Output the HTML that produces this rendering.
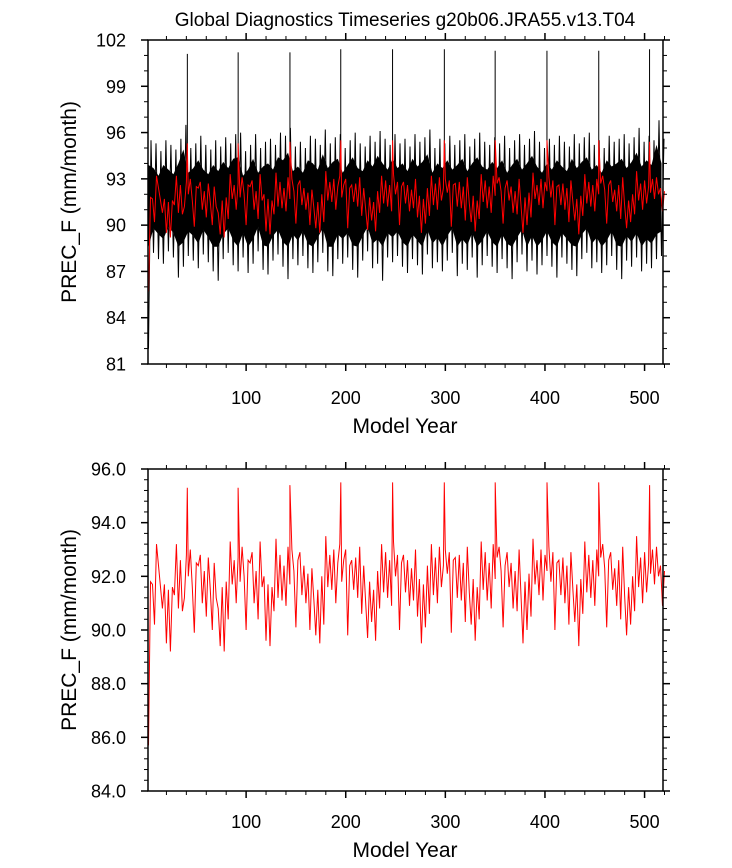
<!DOCTYPE html>
<html><head><meta charset="utf-8"><style>
html,body{margin:0;padding:0;background:#fff;}
svg{display:block;font-family:"Liberation Sans",sans-serif;}
</style></head><body>
<svg id="chart" width="732" height="868" viewBox="0 0 732 868">
<text x="405" y="26" font-size="19" text-anchor="middle">Global Diagnostics Timeseries g20b06.JRA55.v13.T04</text>
<g id="top"></g>
<g id="bot"></g>
</svg>
<script>
// Annual mean (red) values every 2 years starting year 2
const redVals = [
85.7,91.8,91.7,90.2,93.2,92.4,91.6,90.8,91.7,89.5,91.5,89.2,91.6,91.3,93.2,90.8,92.6,90.7,91.2,92.8,92.0,93.0,91.6,89.9,92.5,92.4,
92.8,91.0,92.2,90.5,92.7,91.5,90.0,92.5,91.2,90.8,89.4,91.6,89.2,91.8,90.4,93.3,91.7,92.6,91.0,92.7,91.8,93.1,92.0,90.0,92.6,92.5,
92.9,91.0,92.2,90.4,93.3,91.6,92.0,89.6,91.7,89.4,91.6,90.7,93.4,91.2,92.8,91.1,92.4,90.9,93.1,91.7,93.0,92.2,90.1,92.6,92.9,91.3,
92.4,91.0,92.1,90.0,92.3,91.1,89.8,91.5,89.5,92.0,90.2,93.5,91.6,92.8,91.5,93.0,91.0,92.5,93.2,91.8,92.6,93.0,89.8,92.4,92.6,91.5,
92.7,91.2,93.1,90.6,92.4,91.0,89.7,91.8,90.3,91.5,89.6,92.2,90.8,93.2,91.4,92.9,91.2,92.6,90.9,93.3,92.0,92.8,90.0,92.5,92.8,91.4,
92.6,90.9,92.3,91.1,93.0,90.5,91.9,89.5,91.7,90.1,92.4,90.6,93.2,91.3,92.7,91.0,93.1,91.6,92.4,93.0,92.1,92.9,89.9,92.6,92.7,91.2,
92.8,91.1,92.5,90.3,93.1,91.4,90.2,91.9,89.6,91.6,90.4,93.3,91.5,92.9,91.1,92.5,90.8,93.2,91.9,92.7,93.1,92.2,90.1,92.4,92.9,91.6,
92.5,90.8,92.2,90.7,93.0,91.2,89.5,91.8,90.0,92.1,90.5,93.4,91.7,92.6,91.3,93.0,91.1,92.8,92.2,93.1,91.8,92.9,90.0,92.5,92.6,91.3,
92.7,91.0,92.4,90.2,92.9,91.5,90.3,91.7,89.4,91.9,90.6,93.3,91.4,92.8,91.2,92.6,90.9,93.0,92.0,92.7,93.2,92.3,90.1,92.6,92.9,91.5,
92.3,90.9,92.6,90.4,93.1,91.3,89.8,91.6,90.2,92.0,90.7,93.5,91.6,92.7,91.0,92.9,91.4,92.5,92.1,93.0,91.7,93.1,92.0,92.4,90.9,92.2
];
const spikeYears = [41,92,144,195,247,299,350,402,454,505];
const redSpikeVals = [95.3,95.3,95.4,95.5,95.5,95.5,95.5,95.5,95.5,95.4];
const blackSpikeVals = [101.1,101.2,101.2,101.4,101.4,101.4,101.3,101.3,101.3,101.4];
// Monthly envelope (black), every 5 years starting year 2
const blackHi = [
95.5,95.3,94.8,95.5,95.2,94.9,95.6,96.5,95.0,95.3,
95.8,95.2,94.9,95.5,95.1,95.7,95.3,95.9,96.0,94.8,
95.2,95.9,95.0,95.4,95.6,95.2,96.0,95.8,96.3,95.1,
95.4,95.0,95.8,95.6,95.2,96.2,95.3,95.7,95.9,95.0,
95.5,96.0,95.3,95.1,95.8,95.4,96.1,95.6,95.2,95.9,
95.3,95.6,95.1,95.9,95.4,95.7,96.2,95.0,95.6,95.3,
95.8,95.2,95.5,95.9,95.1,95.6,96.0,95.4,95.2,95.7,
95.3,95.8,95.0,95.5,95.9,95.2,95.6,96.1,95.4,95.0,
95.6,95.2,95.8,95.4,95.1,95.9,95.3,95.7,96.0,95.2,
95.5,95.0,95.8,95.4,95.6,95.9,95.3,95.7,96.3,95.4,
95.8,95.5,96.8,95.6];
const blackLo = [
82.0,88.2,87.8,87.5,88.3,87.9,86.6,87.3,88.0,87.7,
87.2,88.1,87.6,87.0,86.4,87.8,88.2,87.4,87.0,87.9,
86.9,87.5,88.3,87.1,86.8,87.7,88.1,87.3,86.5,87.8,
87.4,88.0,87.2,86.9,87.6,88.2,87.0,86.7,87.8,87.5,
87.9,87.1,86.6,87.7,88.3,87.2,87.5,86.4,87.9,87.6,
88.0,87.3,86.9,87.8,87.4,86.8,88.1,87.2,87.6,87.0,
87.7,88.2,86.7,87.5,87.1,87.9,86.6,87.4,88.0,87.3,
86.9,87.8,87.2,86.5,87.6,88.1,87.0,87.7,86.8,87.4,
88.0,87.3,86.6,87.9,87.5,87.1,86.7,87.8,88.2,87.2,
87.6,86.9,87.4,88.0,87.1,86.5,87.7,87.3,87.9,87.0,
87.5,87.2,87.8,88.0];
const xTickVals = [100,200,300,400,500];
const topYTicks = ["81","84","87","90","93","96","99","102"];
const botYTicks = ["84.0","86.0","88.0","90.0","92.0","94.0","96.0"];

const NS="http://www.w3.org/2000/svg";
const X0=148, X1=663, YR0=1.5, YR1=518.5;
function xS(yr){return X0+(yr-YR0)/(YR1-YR0)*(X1-X0);}
function mk(tag,attrs,parent){const e=document.createElementNS(NS,tag);for(const k in attrs)e.setAttribute(k,attrs[k]);parent.appendChild(e);return e;}

function redSeries(){
  const pts=[];
  redVals.forEach((v,i)=>pts.push([2+2*i,v]));
  spikeYears.forEach((y,i)=>pts.push([y,redSpikeVals[i]]));
  pts.sort((a,b)=>a[0]-b[0]);
  return pts;
}

function axes(g,y0,y1,vmin,vmax,major,minor,labels,labelOffset){
  const yS=v=>y1-(v-vmin)/(vmax-vmin)*(y1-y0);
  for(let yr=20;yr<=520;yr+=20){
    const isMaj=yr%100===0, L=isMaj?7:4;
    const t1=mk('line',{x1:xS(yr),x2:xS(yr),y1:y1,y2:y1+L,stroke:'#000','stroke-width':isMaj?1.5:1},g);
    
    
    const t2=mk('line',{x1:xS(yr),x2:xS(yr),y1:y0,y2:y0-L,stroke:'#000','stroke-width':isMaj?1.5:1},g);
    
    
  }
  for(let v=vmin;v<=vmax+1e-6;v+=minor){
    const isMaj=Math.abs(Math.round((v-vmin)/major)*major-(v-vmin))<1e-6, L=isMaj?7:4;
    const a=mk('line',{x1:X0-L,x2:X0,y1:yS(v),y2:yS(v),stroke:'#000','stroke-width':isMaj?1.5:1},g);
    
    
    const b=mk('line',{x1:X1,x2:X1+L,y1:yS(v),y2:yS(v),stroke:'#000','stroke-width':isMaj?1.5:1},g);
    
    
  }
  labels.forEach((s,i)=>{
    const t=mk('text',{x:126,y:yS(vmin+i*major)+6.5,'font-size':18,'text-anchor':'end'},g);
    t.textContent=s;
    
    
  });
  xTickVals.forEach(v=>{
    const t=mk('text',{x:xS(v),y:y1+labelOffset,'font-size':18,'text-anchor':'middle'},g);
    t.textContent=String(v);
    
    
  });
  const xt=mk('text',{x:405,y:y1+labelOffset+29,'font-size':21,'text-anchor':'middle'},g);
  xt.textContent='Model Year';
  
  
  const cy=(y0+y1)/2;
  const yt=mk('text',{x:76,y:cy,'font-size':21,'text-anchor':'middle',transform:`rotate(-90 76 ${cy})`},g);
  yt.textContent='PREC_F (mm/month)';
  
  
  const fr=mk('rect',{x:X0,y:y0,width:X1-X0,height:y1-y0,fill:'none',stroke:'#000','stroke-width':1.5},g);
  
  
}

// TOP PANEL
(function(){
  const g=document.getElementById('top');
  const y0=40,y1=364,vmin=81,vmax=102;
  const yS=v=>y1-(v-vmin)/(vmax-vmin)*(y1-y0);
  let d='';
  blackHi.forEach((v,i)=>{d+=(i?'L':'M')+xS(2+5*i).toFixed(1)+','+yS(v-1.6).toFixed(1);});
  for(let i=blackLo.length-1;i>=0;i--){d+='L'+xS(2+5*i).toFixed(1)+','+yS(Math.max(blackLo[i],87)+1.6).toFixed(1);}
  const env=mk('path',{d:d+'Z',fill:'#000'},g);
  
  
  let z='';
  blackHi.forEach((v,i)=>{
    z+=(i?'L':'M')+xS(2+5*i).toFixed(1)+','+yS(blackLo[i]).toFixed(1);
    z+='L'+xS(4.5+5*i).toFixed(1)+','+yS(v).toFixed(1);
  });
  const zz=mk('path',{d:z,fill:'none',stroke:'#000','stroke-width':1},g);
  
  
  spikeYears.forEach((yr,i)=>{
    const s=mk('line',{x1:xS(yr),x2:xS(yr),y1:yS(93),y2:yS(blackSpikeVals[i]),stroke:'#000','stroke-width':1},g);
    
    
  });
  const pts=redSeries();
  const pl=mk('polyline',{points:pts.map(p=>xS(p[0]).toFixed(1)+','+yS(p[1]).toFixed(1)).join(' '),fill:'none',stroke:'#f00','stroke-width':1},g);
  
  
  axes(g,y0,y1,vmin,vmax,3,1,topYTicks,40);
})();

// BOTTOM PANEL
(function(){
  const g=document.getElementById('bot');
  const y0=469,y1=791,vmin=84,vmax=96;
  const yS=v=>y1-(v-vmin)/(vmax-vmin)*(y1-y0);
  const pts=redSeries();
  const pl=mk('polyline',{points:pts.map(p=>xS(p[0]).toFixed(1)+','+yS(p[1]).toFixed(1)).join(' '),fill:'none',stroke:'#f00','stroke-width':1},g);
  
  
  axes(g,y0,y1,vmin,vmax,2,0.4,botYTicks,37);
})();
</script>
</body></html>
